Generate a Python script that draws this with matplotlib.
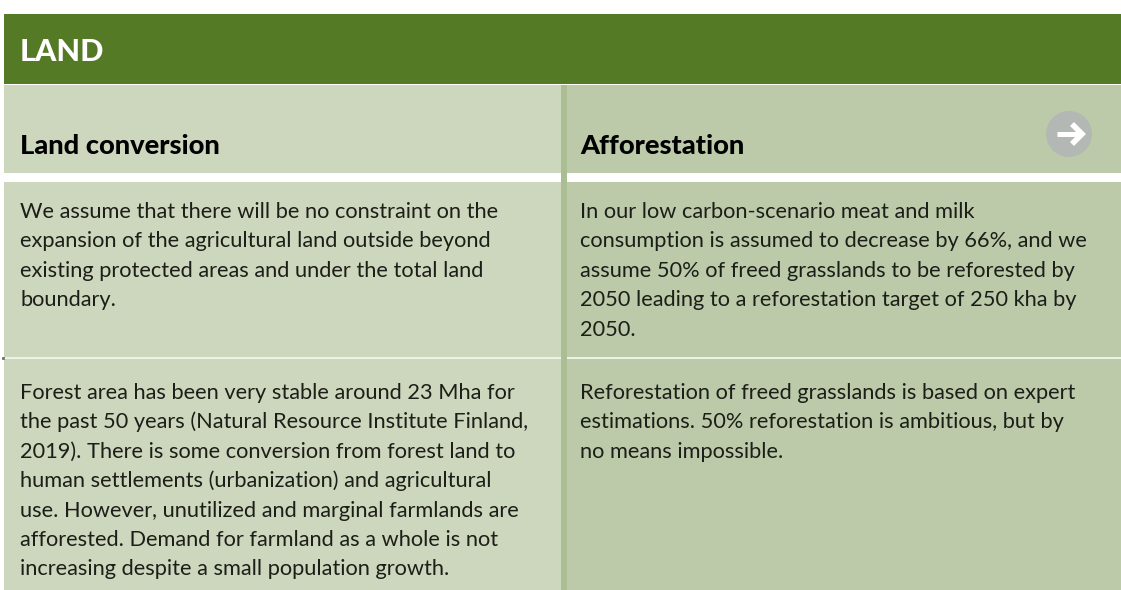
import matplotlib
matplotlib.use("Agg")
import matplotlib.pyplot as plt
from matplotlib.patches import Rectangle, Ellipse

TITLE = "LAND"
COL_HEADS = ["Land conversion", "Afforestation"]
LEFT_ROW1 = ["We assume that there will be no constraint on the",
             "expansion of the agricultural land outside beyond",
             "existing protected areas and under the total land",
             "boundary."]
RIGHT_ROW1 = ["In our low carbon-scenario meat and milk",
              "consumption is assumed to decrease by 66%, and we",
              "assume 50% of freed grasslands to be reforested by",
              "2050 leading to a reforestation target of 250 kha by",
              "2050."]
LEFT_ROW2 = ["Forest area has been very stable around 23 Mha for",
             "the past 50 years (Natural Resource Institute Finland,",
             "2019). There is some conversion from forest land to",
             "human settlements (urbanization) and agricultural",
             "use. However, unutilized and marginal farmlands are",
             "afforested. Demand for farmland as a whole is not",
             "increasing despite a small population growth."]
RIGHT_ROW2 = ["Reforestation of freed grasslands is based on expert",
              "estimations. 50% reforestation is ambitious, but by",
              "no means impossible."]

GREEN = "#557a26"; LEFT_BG = "#cdd7bd"; RIGHT_BG = "#bccaaa"; DIVIDER = "#abbd92"
FONT = "Lato"

fig = plt.figure(figsize=(11.21, 5.90), dpi=100)
ax = fig.add_axes([0, 0, 1, 1])
ax.set_xlim(0, 1121); ax.set_ylim(590, 0); ax.axis("off")

def box(x0, y0, x1, y1, color, z=1):
    ax.add_patch(Rectangle((x0, y0), x1 - x0, y1 - y0, fc=color, ec="none", lw=0, zorder=z))

def lines(x, y, rows):
    for i, s in enumerate(rows):
        ax.text(x, y + i * 29.4, s, fontsize=15.7, family=FONT, color="#1c1e18", va="baseline", ha="left", zorder=5)

box(3.5, 14, 1121, 84, GREEN)
box(4, 85, 561, 590, LEFT_BG)
box(567, 85, 1121, 590, RIGHT_BG)
box(4, 173, 1121, 181.5, "white", 2)                # white band under column heads
box(4, 357, 1121, 359, "#eef1e8", 2)                # thin line between rows
box(561, 85, 567, 590, DIVIDER, 3)
ax.plot([3], [358], marker="s", ms=1.2, color="#777777", zorder=4)

ax.text(20, 61, TITLE, fontsize=22, family=FONT, weight=900, color="white", va="baseline")
ax.text(20, 154.5, COL_HEADS[0], fontsize=19.6, family=FONT, weight=900, color="black", va="baseline")
ax.text(580, 154.5, COL_HEADS[1], fontsize=19.6, family=FONT, weight=900, color="black", va="baseline")

lines(20, 218, LEFT_ROW1)
lines(580, 218, RIGHT_ROW1)
lines(20, 399, LEFT_ROW2)
lines(580, 399, RIGHT_ROW2)

# arrow button
ax.add_patch(Ellipse((1069, 134), 46, 46, fc="#b4b8b4", ec="none", zorder=4))
ax.plot([1057, 1081], [134, 134], color="white", lw=3.6, solid_capstyle="butt", zorder=5)
ax.plot([1072, 1082, 1072], [124, 134, 144], color="white", lw=4, solid_joinstyle="miter", solid_capstyle="butt", zorder=5)

fig.savefig("out.png", dpi=100)
